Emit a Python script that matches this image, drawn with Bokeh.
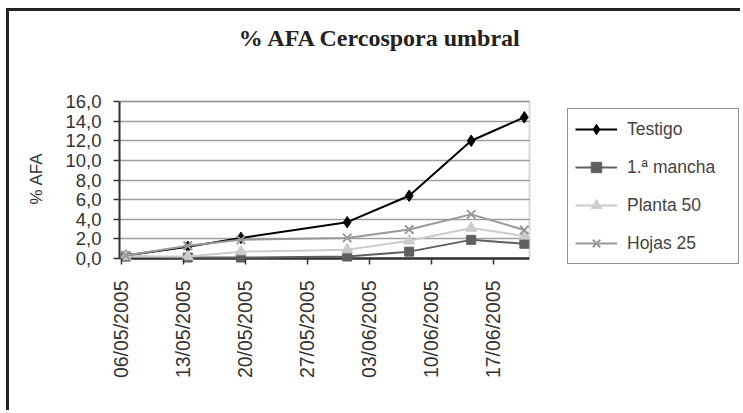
import math
import pandas as pd
from bokeh.plotting import figure
from bokeh.models import (ColumnDataSource, FixedTicker, DatetimeTickFormatter,
                          Legend, LegendItem, Range1d, Span, BoxAnnotation, Label,
                          Title)
from bokeh.transform import dodge
from bokeh.embed import file_html
from bokeh.resources import INLINE

# ---------------- data ----------------
dates = ["2005-05-06", "2005-05-13", "2005-05-19", "2005-05-31",
         "2005-06-07", "2005-06-14", "2005-06-20"]
testigo = [0.3, 1.2, 2.1, 3.7, 6.4, 12.0, 14.4]
mancha = [0.2, 0.1, 0.1, 0.2, 0.7, 1.9, 1.5]
planta = [0.2, 0.2, 0.7, 0.9, 1.8, 3.1, 2.3]
hojas = [0.3, 1.3, 1.9, 2.1, 2.95, 4.5, 2.9]

series_names = ["Testigo", "1.ª mancha", "Planta 50", "Hojas 25"]
x_tick_dates = ["2005-05-06", "2005-05-13", "2005-05-20", "2005-05-27",
                "2005-06-03", "2005-06-10", "2005-06-17"]
y_ticks = [0, 2, 4, 6, 8, 10, 12, 14, 16]
y_tick_labels = ["0,0", "2,0", "4,0", "6,0", "8,0", "10,0", "12,0", "14,0", "16,0"]
title_text = "% AFA Cercospora umbral"
y_label = "% AFA"

# ---------------- layout helpers ----------------
FIG_W, FIG_H = 734, 402
LEFT = 110               # frame left (canvas px)
FRAME_W = FIG_W - LEFT   # frame reaches the right edge (legend lives there)
PLOT_W = 410             # width of the visible plot area
FRAME_H = 254            # frame from canvas top down to just below the 0 line
PX_PER_UNIT = 9.81
ZERO_FROM_BOTTOM = 7     # px between frame bottom and the 0 line
y_lo = -ZERO_FROM_BOTTOM / PX_PER_UNIT
y_hi = y_lo + FRAME_H / PX_PER_UNIT

def ms(ts):
    return pd.Timestamp(ts).value / 1e6

x_start = ms("2005-05-05 19:00")
plot_end = ms("2005-06-21 02:00")
x_end = x_start + (plot_end - x_start) * FRAME_W / PLOT_W

# ---------------- figure ----------------
src = ColumnDataSource(dict(date=pd.to_datetime(dates), testigo=testigo,
                            mancha=mancha, planta=planta, hojas=hojas))

p = figure(width=FIG_W, height=FIG_H, x_axis_type="datetime",
           output_backend="svg", toolbar_location=None,
           x_range=Range1d(x_start, x_end), y_range=Range1d(y_lo, y_hi),
           min_border_left=LEFT, min_border_top=0,
           min_border_right=0, min_border_bottom=FIG_H - FRAME_H)
p.styles = {"border-left": "3px solid #222", "border-top": "3px solid #222",
            "margin-left": "6px", "margin-top": "8px"}

p.background_fill_color = "white"
p.border_fill_color = "white"
p.outline_line_color = None

# grid
p.xgrid.grid_line_color = None
p.ygrid.grid_line_color = "#a0a0a0"
p.ygrid.grid_line_width = 1.5

# y axis
p.yaxis.ticker = FixedTicker(ticks=y_ticks)
p.yaxis.bounds = (y_ticks[0], y_ticks[-1])
p.yaxis.major_label_overrides = {t_: l for t_, l in zip(y_ticks, y_tick_labels)}
p.yaxis.minor_tick_line_color = None
p.yaxis.major_tick_in = 0
p.yaxis.major_tick_out = 6
p.yaxis.major_label_standoff = 12
p.yaxis.axis_line_color = "#333333"
p.yaxis.axis_line_width = 2

# y axis title (placed in the left panel, beside the tick labels)
p.add_layout(Title(text=y_label, align="left", offset=61, vertical_align="middle",
                   standoff=32, text_font="Liberation Sans", text_font_size="17px",
                   text_font_style="normal", text_color="#333333"), "left")

# x axis
p.xaxis.ticker = FixedTicker(ticks=[ms(d) for d in x_tick_dates])
p.xaxis.formatter = DatetimeTickFormatter(days="%d/%m/%Y", months="%d/%m/%Y",
                                          years="%d/%m/%Y", hours="%d/%m/%Y")
p.xaxis.major_label_orientation = math.pi / 2
p.xaxis.minor_tick_line_color = None
p.xaxis.axis_line_color = None
p.xaxis.major_tick_in = ZERO_FROM_BOTTOM
p.xaxis.major_tick_out = -1
p.xaxis.major_label_standoff = 15

for ax in (p.xaxis, p.yaxis):
    ax.major_tick_line_color = "#333333"
    ax.major_tick_line_width = 1.5
    ax.major_label_text_font = "Liberation Sans"
    ax.major_label_text_color = "#333333"
p.yaxis.major_label_text_font_size = "18.5px"
p.xaxis.major_label_text_font_size = "19.5px"

# zero line, blank area right of the plot area, plot-area outline
p.add_layout(Span(location=0, dimension="width", line_color="#333333",
                  line_width=2, level="underlay"))
p.add_layout(BoxAnnotation(left=plot_end, fill_color="white", fill_alpha=1,
                           line_color=None, level="underlay"))
p.add_layout(BoxAnnotation(left=x_start, right=plot_end, bottom=y_ticks[0],
                           top=y_ticks[-1], fill_alpha=0, line_color="#808080",
                           line_width=2, level="underlay"))
p.add_layout(Span(location=0, dimension="width", line_color="#333333",
                  line_width=2, level="underlay"))
p.add_layout(BoxAnnotation(left=plot_end, bottom=y_lo, top=0.15,
                           fill_color="white", fill_alpha=1, line_color=None,
                           level="underlay"))

xd = dodge("date", 43200000, range=p.x_range)

# series (drawn in Excel order)
items = []
specs = [
    ("testigo", "#000000", dict(marker="diamond", size=11.5)),
    ("mancha", "#5f5f5f", dict(marker="square", size=9)),
    ("planta", "#cccccc", dict(marker="triangle", size=11)),
    ("hojas", "#999999", dict(marker="x", size=12, line_width=2)),
]
for (col, color, mk), name in zip(specs, series_names):
    r1 = p.line(x=xd, y=col, source=src, line_color=color, line_width=2)
    r2 = p.scatter(x=xd, y=col, source=src, fill_color=color,
                   line_color=color, **mk)
    items.append(LegendItem(label=name, renderers=[r1, r2]))

# chart title (inside the frame's blank top area)
p.add_layout(Label(x=261, y=FRAME_H - 26.3, x_units="screen", y_units="screen",
                   text=title_text, text_align="center",
                   text_baseline="alphabetic", text_font="Liberation Serif",
                   text_font_style="bold", text_font_size="24px",
                   text_color="#222222"))

legend = Legend(items=items, location=(448, 1))
legend.label_text_font = "Liberation Sans"
legend.label_text_font_size = "17.5px"
legend.label_text_color = "#444444"
legend.glyph_width = 42
legend.glyph_height = 26
legend.label_height = 26
legend.label_width = 104
legend.spacing = 12
legend.padding = 7
legend.margin = 0
legend.label_standoff = 10
legend.border_line_color = "#222222"
legend.border_line_width = 1.5
legend.background_fill_color = "white"
legend.background_fill_alpha = 1
p.add_layout(legend, "center")

open("out.html", "w").write(file_html(p, INLINE))
